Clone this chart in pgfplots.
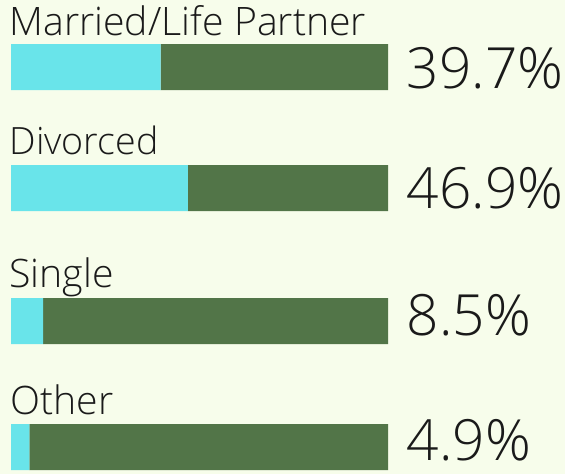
\documentclass[border=0pt]{standalone}
\usepackage{pgfplots}
\pgfplotsset{compat=1.18}
\usepackage{fontspec}
\setmainfont{Open Sans Light}

\definecolor{bgc}{HTML}{F7FDEB}
\definecolor{share}{HTML}{69E4EA}
\definecolor{rest}{HTML}{527548}
\definecolor{ink}{HTML}{1A1A1A}

\tikzset{
  lbl/.style={inner sep=0pt, anchor=base west, text=ink, font=\fontsize{39.2}{41}\selectfont},
  pct/.style={inner sep=0pt, anchor=base west, text=ink, font=\fontsize{56.8}{59}\selectfont},
}

\begin{document}
\begin{tikzpicture}
\begin{axis}[
  scale only axis,
  width=565pt, height=474pt,
  xmin=-2.9178, xmax=146.95,
  ymin=0, ymax=474, y dir=reverse,
  axis lines=none, ticks=none,
  axis background/.style={fill=bgc},
  xbar stacked, bar width=46pt,
  clip=false,
]
% share (cyan) and remainder (green), y = bar centre
\addplot[fill=share, draw=none] coordinates {(39.7,67) (46.9,188) (8.5,321) (4.9,447)};
\addplot[fill=rest, draw=none] coordinates {(60.3,67) (53.1,188) (91.5,321) (95.1,447)};

\node[lbl] at (axis cs:-0.45,35) {Married/Life Partner};
\node[lbl, font=\fontsize{37.6}{39}\selectfont] at (axis cs:-0.45,154) {Divorced};
\node[lbl] at (axis cs:-0.45,287) {Single};
\node[lbl] at (axis cs:-0.2,414) {Other};
\node[pct] at (axis cs:104.9,88) {39.7\%};
\node[pct] at (axis cs:104.9,208) {46.9\%};
\node[pct] at (axis cs:104.9,335) {8.5\%};
\node[pct] at (axis cs:104.9,460) {4.9\%};
\end{axis}
\end{tikzpicture}
\end{document}
